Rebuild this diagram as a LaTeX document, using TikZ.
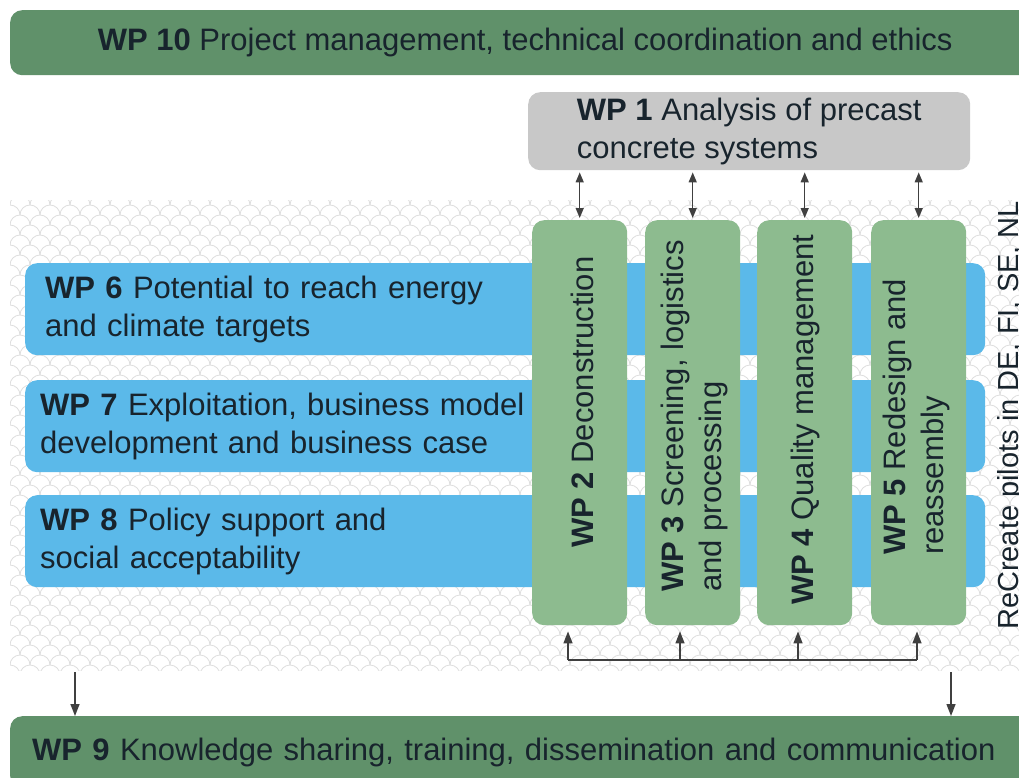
\documentclass[tikz,border=0pt]{standalone}
\usepackage{fontspec}
\setmainfont{Liberation Sans}
\usepackage{xcolor}
\usetikzlibrary{arrows.meta}
\definecolor{wpdark}{RGB}{96,145,106}
\definecolor{wplight}{RGB}{141,187,143}
\definecolor{wpblue}{RGB}{91,185,233}
\definecolor{wpgray}{RGB}{200,200,200}
\definecolor{wptext}{RGB}{24,36,45}
\definecolor{fishscale}{RGB}{222,222,222}

\begin{document}
\begin{tikzpicture}[x=1pt,y=-1pt,
	font=\fontsize{31}{38}\selectfont, text=wptext,
	wpbox/.style={rounded corners=12pt, inner sep=0pt, anchor=north west},
	wpcol/.style={wpbox, fill=wplight, minimum width=95, minimum height=405},
	wplabel/.style={rotate=90, anchor=west, align=left, inner sep=0pt},
	link/.style={draw=black!75, line width=1.4pt},
	tip/.style={-{Triangle[length=12pt,width=9pt]}}]
	\useasboundingbox (0,0) rectangle (1019,778);

	\begin{scope}
		\clip (10,200) rectangle (1019,670);
		\foreach \r in {0,...,48}
			\foreach \c in {0,...,52}
				\draw[fishscale, line width=0.8pt] ({\c*20+mod(\r,2)*10-10}, 205+\r*10) arc[start angle=180, end angle=0, radius=10pt];
	\end{scope}

	\node[wpbox, fill=wpdark, minimum width=1030, minimum height=65] (wp10) at (10,10) {\textbf{WP 10} Project management, technical coordination and ethics};
	\node[wpbox, fill=wpgray, minimum width=442, minimum height=78, align=left] (wp1) at (528,92) {\textbf{WP 1} Analysis of precast\\concrete systems};

	\node[wpbox, fill=wpblue, minimum width=960, minimum height=92, text width=920, inner xsep=20pt, align=left] (wp6) at (25,263) {\textbf{WP 6} Potential to reach energy\\and climate targets};
	\node[wpbox, fill=wpblue, minimum width=960, minimum height=92, text width=930, inner xsep=15pt, align=left] (wp7) at (25,380) {\textbf{WP 7} Exploitation, business model\\development and business case};
	\node[wpbox, fill=wpblue, minimum width=960, minimum height=92, text width=930, inner xsep=15pt, align=left] (wp8) at (25,495) {\textbf{WP 8} Policy support and\\social acceptability};

	\node[wpcol] (wp2) at (532,220) {};
	\node[wpcol] (wp3) at (645,220) {};
	\node[wpcol] (wp4) at (757,220) {};
	\node[wpcol] (wp5) at (871,220) {};
	\node[wplabel] (l2) at (582,548) {\textbf{WP 2} Deconstruction};
	\node[wplabel] (l3) at (694,592) {\textbf{WP 3} Screening, logistics\\and processing};
	\node[wplabel] (l4) at (805,605) {\textbf{WP 4} Quality management};
	\node[wplabel] (l5) at (916,555) {\textbf{WP 5} Redesign and\\reassembly};
	\node[wplabel, font=\fontsize{29}{36}\selectfont] (pilots) at (1011,630) {ReCreate pilots in DE, FI, SE, NL};

	\node[wpbox, fill=wpdark, minimum width=1040, minimum height=72, text width=1000, inner xsep=22pt, align=left] (wp9) at (10,716) {\textbf{WP 9} Knowledge sharing, training, dissemination and communication};

	\foreach \n in {wp2,wp3,wp4,wp5}
		\draw[link, {Triangle[length=10pt,width=8pt]}-{Triangle[length=10pt,width=8pt]}, shorten <=2pt, shorten >=2pt] (\n.north) -- (\n.north |- wp1.south);

	\coordinate (b2) at (568,660);
	\coordinate (b3) at (680,660);
	\coordinate (b4) at (798,660);
	\coordinate (b5) at (917,660);
	\draw[link] (b2) -- (b5);
	\foreach \b/\n in {b2/wp2,b3/wp3,b4/wp4,b5/wp5}
		\draw[link, tip, shorten >=6pt] (\b) -- (\b |- \n.south);

	\coordinate (d1) at (75,672);
	\coordinate (d2) at (951,672);
	\draw[link, tip] (d1) -- (d1 |- wp9.north);
	\draw[link, tip] (d2) -- (d2 |- wp9.north);
\end{tikzpicture}
\end{document}
